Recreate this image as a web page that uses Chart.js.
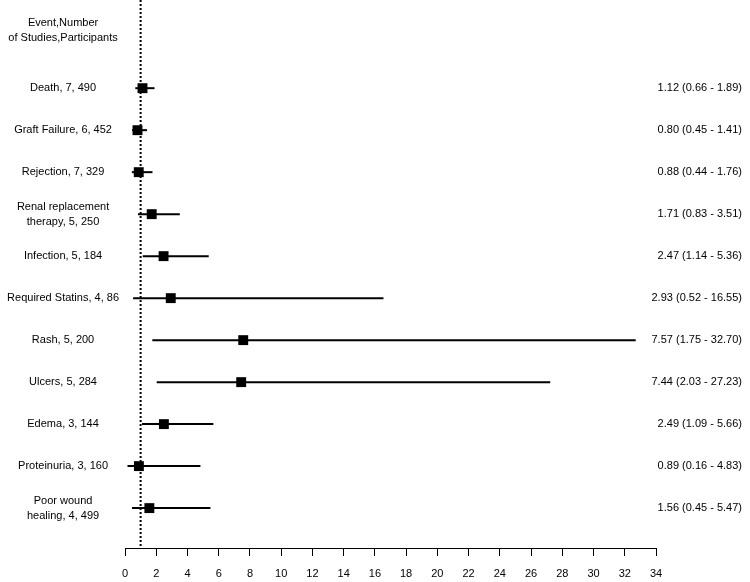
<!DOCTYPE html>
<html>
<head>
<meta charset="utf-8">
<script src="https://cdn.jsdelivr.net/npm/chart.js@4"></script>
<style>
  html, body { margin: 0; background: #fff; }
  #wrap { width: 750px; height: 582px; }
</style>
</head>
<body>
<div id="wrap"><canvas id="forest"></canvas></div>
<script>
// column header and outcome labels (Event, Number of Studies, Participants)
const header = ['Event,Number', 'of Studies,Participants'];
const outcomes = [
  ['Death, 7, 490'],
  ['Graft Failure, 6, 452'],
  ['Rejection, 7, 329'],
  ['Renal replacement', 'therapy, 5, 250'],
  ['Infection, 5, 184'],
  ['Required Statins, 4, 86'],
  ['Rash, 5, 200'],
  ['Ulcers, 5, 284'],
  ['Edema, 3, 144'],
  ['Proteinuria, 3, 160'],
  ['Poor wound', 'healing, 4, 499']
];
const estimates = [1.12, 0.80, 0.88, 1.71, 2.47, 2.93, 7.57, 7.44, 2.49, 0.89, 1.56];
const lower = [0.66, 0.45, 0.44, 0.83, 1.14, 0.52, 1.75, 2.03, 1.09, 0.16, 0.45];
const upper = [1.89, 1.41, 1.76, 3.51, 5.36, 16.55, 32.70, 27.23, 5.66, 4.83, 5.47];
const ciLabels = [
  '1.12 (0.66 - 1.89)',
  '0.80 (0.45 - 1.41)',
  '0.88 (0.44 - 1.76)',
  '1.71 (0.83 - 3.51)',
  '2.47 (1.14 - 5.36)',
  '2.93 (0.52 - 16.55)',
  '7.57 (1.75 - 32.70)',
  '7.44 (2.03 - 27.23)',
  '2.49 (1.09 - 5.66)',
  '0.89 (0.16 - 4.83)',
  '1.56 (0.45 - 5.47)'
];
const xTicks = [0, 2, 4, 6, 8, 10, 12, 14, 16, 18, 20, 22, 24, 26, 28, 30, 32, 34];
const refLine = 1;

Chart.defaults.font.family = '"Liberation Sans", Arial, Helvetica, sans-serif';
Chart.defaults.font.size = 11;
Chart.defaults.color = '#000';

const rowPos = outcomes.map((_, i) => i + 1);
const headerPos = -0.38;
const yMin = -1.1;
const yMax = 11.95;

const squares = {
  type: 'scatter',
  data: estimates.map((v, i) => ({ x: v, y: rowPos[i] })),
  pointStyle: 'rect',
  pointRadius: 7,
  backgroundColor: '#000',
  borderWidth: 0
};

const ciLines = outcomes.map((_, i) => ({
  type: 'line',
  data: [{ x: lower[i], y: rowPos[i] }, { x: upper[i], y: rowPos[i] }],
  borderColor: '#000',
  borderWidth: 2,
  pointRadius: 0
}));

const nullLine = {
  type: 'line',
  data: [{ x: refLine, y: yMin }, { x: refLine, y: yMax }],
  borderColor: '#000',
  borderWidth: 2,
  borderDash: [2, 2],
  pointRadius: 0
};

// no extra room for the end labels, the plot runs to the top edge
const noEndPadding = (scale) => {
  scale.paddingTop = 0;
  scale.paddingBottom = 0;
};

// right column: right aligned a bit in from the edge, not clipped at the plot
const rightColumn = {
  id: 'rightColumn',
  afterLayout(chart) {
    const s = chart.scales.y2;
    s.left -= 12;
    s.right -= 8;
  }
};

new Chart(document.getElementById('forest'), {
  type: 'scatter',
  data: { datasets: [squares, ...ciLines, nullLine] },
  plugins: [rightColumn],
  options: {
    responsive: true,
    maintainAspectRatio: false,
    animation: false,
    layout: { padding: 0, autoPadding: false },
    plugins: { legend: { display: false }, tooltip: { enabled: false } },
    scales: {
      x: {
        type: 'linear',
        min: 0,
        max: 34,
        afterBuildTicks: (scale) => { scale.ticks = xTicks.map(v => ({ value: v })); },
        afterFit: (scale) => { scale.height = 34; },
        grid: { drawOnChartArea: false, drawTicks: true, tickLength: 8, color: '#000' },
        border: { color: '#000', width: 1 },
        ticks: { padding: 11, autoSkip: false, maxRotation: 0 }
      },
      y: {
        type: 'linear',
        position: 'left',
        reverse: true,
        min: yMin,
        max: yMax,
        afterBuildTicks: (scale) => {
          scale.ticks = [headerPos, ...rowPos].map(v => ({ value: v }));
        },
        afterFit: (scale) => { scale.width = 125; noEndPadding(scale); },
        grid: { display: false, drawTicks: false },
        border: { display: false },
        ticks: {
          autoSkip: false,
          crossAlign: 'center',
          padding: 6,
          font: { lineHeight: 1.35 },
          callback: (value, index) => index === 0 ? header : outcomes[index - 1]
        }
      },
      y2: {
        type: 'linear',
        position: 'right',
        reverse: true,
        min: yMin,
        max: yMax,
        afterBuildTicks: (scale) => {
          scale.ticks = rowPos.map(v => ({ value: v }));
        },
        afterFit: (scale) => { scale.width = 94; noEndPadding(scale); },
        grid: { display: false, drawTicks: false },
        border: { display: false },
        ticks: {
          autoSkip: false,
          crossAlign: 'far',
          callback: (value, index) => ciLabels[index]
        }
      }
    }
  }
});
</script>
</body>
</html>
